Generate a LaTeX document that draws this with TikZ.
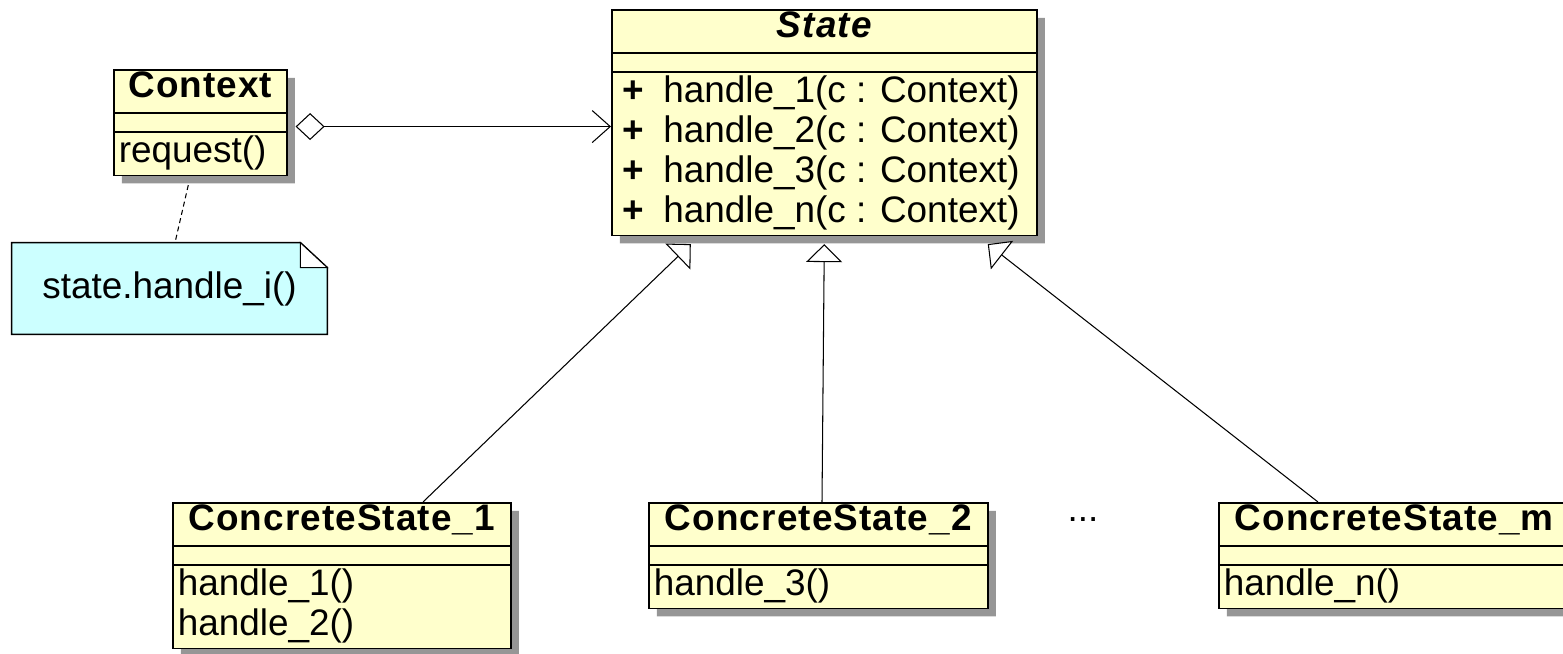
\documentclass[tikz,border=0pt]{standalone}
\usepackage{fontspec}
\setmainfont{Liberation Sans}
\newfontfamily\namefont{Liberation Sans}[LetterSpace=3]
\usetikzlibrary{shapes.multipart,shadows,arrows.meta,backgrounds}
\definecolor{classfill}{RGB}{255,255,204}
\definecolor{notefill}{RGB}{204,255,255}
\definecolor{shadowgray}{RGB}{150,150,150}
\newlength\oplen
\newcommand\clsname[1]{\rule[-0.28cm]{0pt}{0.76cm}{\namefont\bfseries #1}}
\newcommand\clsgap{\rule{0pt}{0.3cm}}
\newcommand\oprow[1]{\hbox to \oplen{\rule[-0.23cm]{0pt}{0.8cm}#1\hfil}}
\newcommand\clsops[2]{\setlength\oplen{#1}\vbox{\offinterlineskip #2}}
\newcommand\pub{\hspace{0.12cm}\textbf{+}\hspace{0.38cm}}
\begin{document}
\begin{tikzpicture}[
    font=\fontsize{21}{25}\selectfont,
    cls/.style={rectangle split, rectangle split parts=3, draw, line width=0.9pt,
      fill=classfill, inner xsep=0.1cm, inner ysep=0.02cm, anchor=north west,
      drop shadow={shadow xshift=0.16cm, shadow yshift=-0.16cm,
        fill=shadowgray, opacity=1}},
    inherit/.style={line width=0.6pt,
      -{Triangle[fill=white, length=0.36cm, width=0.72cm]}},
    aggline/.style={line width=0.6pt, shorten <=0.16cm,
      {Diamond[fill=white, length=0.58cm, width=0.54cm]}-{Straight Barb[length=0.36cm, width=0.64cm]}},
    notelink/.style={line width=0.6pt, dash pattern=on 0.1cm off 0.07cm}]
  \useasboundingbox (0,0) rectangle (31.26,-13.08);

  % classes
  \node [cls] (ctx) at (2.26,-1.38) {\clsname{Context}
    \nodepart{two}\clsgap
    \nodepart{three}\clsops{3.26cm}{\oprow{request()}}};
  \node [cls] (state) at (12.22,-0.18) {\clsname{\itshape State}
    \nodepart{two}\clsgap
    \nodepart{three}\clsops{8.3cm}{%
      \oprow{\pub handle\_1(c : Context)}%
      \oprow{\pub handle\_2(c : Context)}%
      \oprow{\pub handle\_3(c : Context)}%
      \oprow{\pub handle\_n(c : Context)}}};
  \node [cls] (cs1) at (3.44,-10.04) {\clsname{ConcreteState\_1}
    \nodepart{two}\clsgap
    \nodepart{three}\clsops{6.56cm}{\oprow{handle\_1()}\oprow{handle\_2()}}};
  \node [cls] (cs2) at (12.96,-10.04) {\clsname{ConcreteState\_2}
    \nodepart{two}\clsgap
    \nodepart{three}\clsops{6.58cm}{\oprow{handle\_3()}}};
  \node [cls] (csm) at (24.36,-10.04) {\clsname{ConcreteState\_m}
    \nodepart{two}\clsgap
    \nodepart{three}\clsops{6.82cm}{\oprow{handle\_n()}}};
  \node [anchor=base] (dots) at (21.66,-10.42) {...};

  % note
  \node [minimum width=6.3cm, minimum height=1.82cm] (note) at (3.39,-5.77)
        {state.handle\_i()};
  \begin{scope}[on background layer]
    \draw [line width=0.9pt, fill=notefill] (note.north west)
      -- ([xshift=-0.54cm]note.north east) -- ([yshift=-0.5cm]note.north east)
      -- (note.south east) -- (note.south west) -- cycle;
    \draw [line width=0.6pt, fill=white] ([xshift=-0.54cm]note.north east)
      -- ([xshift=-0.54cm,yshift=-0.5cm]note.north east)
      -- ([yshift=-0.5cm]note.north east) -- cycle;
  \end{scope}
  \draw [notelink] ([xshift=-0.24cm,yshift=-0.18cm]ctx.south) -- ([xshift=0.11cm]note.north);

  % associations
  \coordinate (aggfrom) at ([yshift=-0.08cm]ctx.east);
  \draw [aggline] (aggfrom) -- (aggfrom -| state.west);
  \draw [inherit] ([xshift=5.02cm]cs1.north west) -- ([xshift=-2.67cm,yshift=-0.16cm]state.south);
  \draw [inherit] ([xshift=3.48cm]cs2.north west) -- ([yshift=-0.16cm]state.south);
  \draw [inherit] ([xshift=2.0cm]csm.north west) -- ([xshift=3.27cm,yshift=-0.16cm]state.south);
\end{tikzpicture}
\end{document}
